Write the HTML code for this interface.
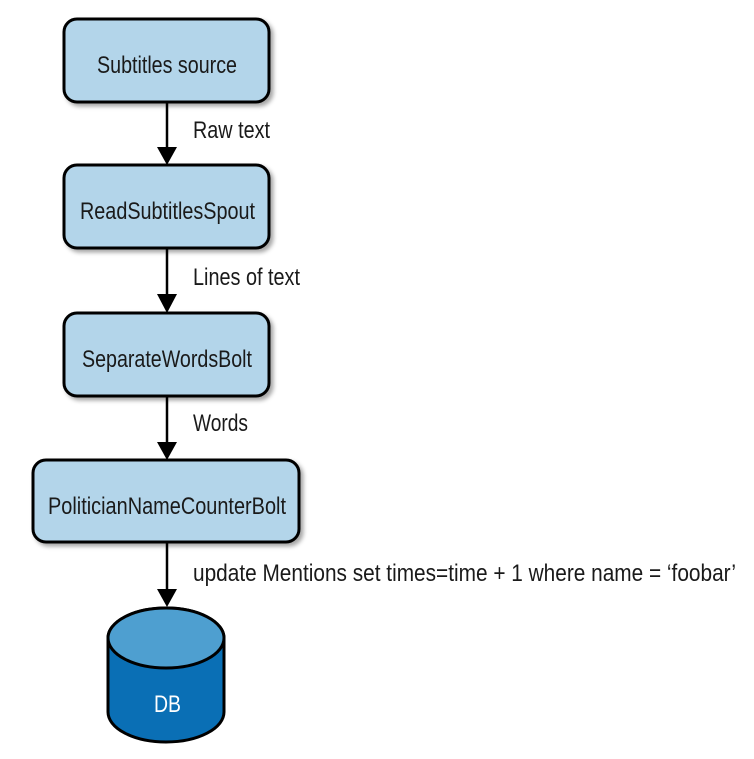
<!DOCTYPE html>
<html><head><meta charset="utf-8"><style>
html,body{margin:0;padding:0;background:#fff;}
svg{display:block}
text{font-family:"Liberation Sans Narrow","Liberation Sans",sans-serif;fill:#1a1a1a;}
</style></head><body>
<svg width="754" height="759" viewBox="0 0 754 759" xmlns="http://www.w3.org/2000/svg">
<defs>
<filter id="sh" x="-10%" y="-10%" width="130%" height="140%"><feDropShadow dx="3" dy="3" stdDeviation="2" flood-color="#000" flood-opacity="0.35"/></filter>
</defs>
<g stroke="#000" stroke-width="3" fill="#b3d5ea" filter="url(#sh)">
<rect x="64" y="19" width="205" height="83" rx="13"/>
<rect x="64" y="165" width="205" height="83" rx="13"/>
<rect x="64" y="313" width="205" height="83" rx="13"/>
<rect x="33" y="460" width="266" height="82" rx="13"/>
</g>
<g stroke="#000" stroke-width="2.5">
<line x1="167" y1="102" x2="167" y2="150"/>
<line x1="167" y1="248" x2="167" y2="297"/>
<line x1="167" y1="396" x2="167" y2="444"/>
<line x1="167" y1="542" x2="167" y2="591"/>
</g>
<g fill="#000">
<polygon points="157,147 177,147 167,165"/>
<polygon points="157,294 177,294 167,313"/>
<polygon points="157,442 177,442 167,460"/>
<polygon points="157,589 177,589 167,607"/>
</g>
<g stroke="#000" stroke-width="3">
<path d="M108,638 L108,712 A58,30 0 0 0 224,712 L224,638 A58,30 0 0 0 108,638 Z" fill="#0a6fb5"/>
<ellipse cx="166" cy="638" rx="58" ry="30" fill="#4e9fd0"/>
</g>
<g font-size="24" text-anchor="start">
<text x="97" y="73" textLength="140" lengthAdjust="spacingAndGlyphs">Subtitles source</text>
<text x="80" y="219" textLength="175" lengthAdjust="spacingAndGlyphs">ReadSubtitlesSpout</text>
<text x="82" y="367" textLength="170" lengthAdjust="spacingAndGlyphs">SeparateWordsBolt</text>
<text x="48" y="514" textLength="238" lengthAdjust="spacingAndGlyphs">PoliticianNameCounterBolt</text>
<text x="193" y="138" textLength="77" lengthAdjust="spacingAndGlyphs">Raw text</text>
<text x="193" y="285" textLength="107" lengthAdjust="spacingAndGlyphs">Lines of text</text>
<text x="193" y="431" textLength="55" lengthAdjust="spacingAndGlyphs">Words</text>
<text x="193" y="581" textLength="543" lengthAdjust="spacingAndGlyphs">update Mentions set times=time + 1 where name = ‘foobar’</text>
<text x="154" y="712" textLength="27" lengthAdjust="spacingAndGlyphs" style="fill:#fff">DB</text>
</g>
</svg>
</body></html>
